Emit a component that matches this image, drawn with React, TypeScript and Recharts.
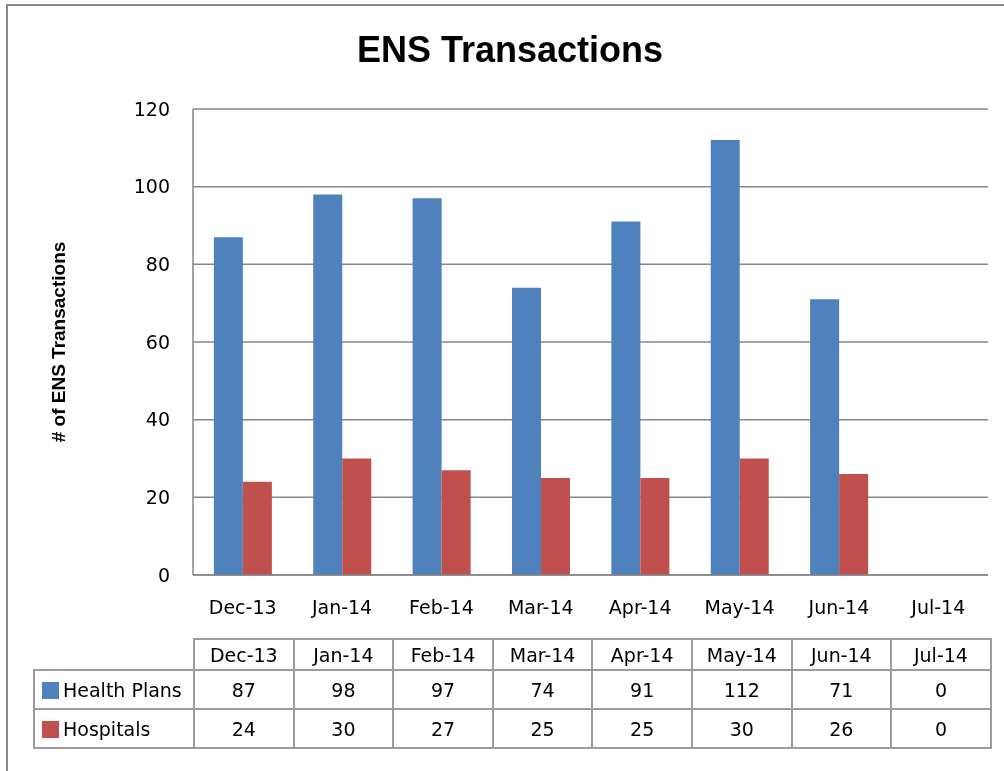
import React from "react";
import { BarChart, Bar, XAxis, YAxis, CartesianGrid } from "recharts";

const months = ["Dec-13", "Jan-14", "Feb-14", "Mar-14", "Apr-14", "May-14", "Jun-14", "Jul-14"];
const healthPlans = [87, 98, 97, 74, 91, 112, 71, 0];
const hospitals = [24, 30, 27, 25, 25, 30, 26, 0];
const yTicks = [0, 20, 40, 60, 80, 100, 120];

const series = [
  { key: "healthPlans", name: "Health Plans", color: "#4F81BD", values: healthPlans },
  { key: "hospitals", name: "Hospitals", color: "#C0504D", values: hospitals },
];

const data = months.map((m, i) => ({
  month: m,
  healthPlans: healthPlans[i],
  hospitals: hospitals[i],
}));

const gridColor = "#878787";
const frameColor = "#8a8a8a";
const tableBorder = "2px solid #9c9c9c";
const textFont = "'DejaVu Sans', sans-serif";

const YLabel = (props: any) => {
  const vb = props.viewBox;
  const cy = vb.y + vb.height / 2;
  return (
    <text
      x={58}
      y={cy}
      transform={`rotate(-90, 58, ${cy})`}
      textAnchor="middle"
      dominantBaseline="central"
      fontFamily="'Liberation Sans', Arial, sans-serif"
      fontWeight="bold"
      fontSize={19}
      fill="#000"
    >
      # of ENS Transactions
    </text>
  );
};

export default function App() {
  const cell: React.CSSProperties = {
    border: tableBorder,
    textAlign: "center",
    padding: 0,
  };

  return (
    <div style={{ position: "fixed", left: 0, top: 0, width: 1004, height: 771, background: "#fff" }}>
      <svg
        width={1004}
        height={771}
        style={{ position: "absolute", left: 0, top: 0, pointerEvents: "none" }}
      >
        <path d="M 7 771 L 7 5 L 1004 5" fill="none" stroke={frameColor} strokeWidth={2} />
      </svg>

      <div
        style={{
          position: "absolute",
          left: 8,
          width: 1004,
          top: 29,
          textAlign: "center",
          fontFamily: "'Liberation Sans', Arial, sans-serif",
          fontWeight: "bold",
          fontSize: 36,
          color: "#000",
        }}
      >
        ENS Transactions
      </div>

      <div style={{ position: "absolute", left: 0, top: 0 }}>
        <BarChart
          width={1004}
          height={640}
          data={data}
          margin={{ top: 109, right: 16, left: 0, bottom: 0 }}
          barCategoryGap="21%"
          barGap={0}
        >
          <CartesianGrid horizontal={true} vertical={false} stroke={gridColor} strokeWidth={1.5} />
          <XAxis
            dataKey="month"
            height={65}
            tickLine={false}
            tickSize={0}
            tickMargin={26}
            axisLine={{ stroke: gridColor, strokeWidth: 1.5 }}
            tick={{ fontFamily: textFont, fontSize: 19, fill: "#000" }}
            interval={0}
          />
          <YAxis
            width={193}
            domain={[0, 120]}
            ticks={yTicks}
            tickLine={false}
            tickSize={0}
            tickMargin={23}
            axisLine={{ stroke: gridColor, strokeWidth: 1.5 }}
            tick={{ fontFamily: textFont, fontSize: 19, fill: "#000" }}
            label={{ content: <YLabel /> } as any}
          />
          {series.map((s) => (
            <Bar key={s.key} dataKey={s.key} name={s.name} fill={s.color} isAnimationActive={false} />
          ))}
        </BarChart>
      </div>

      <table
        style={{
          position: "absolute",
          left: 33,
          top: 638,
          width: 957,
          borderCollapse: "collapse",
          tableLayout: "fixed",
          fontFamily: textFont,
          fontSize: 19,
          color: "#000",
        }}
      >
        <colgroup>
          <col style={{ width: 160 }} />
          {months.map((m) => (
            <col key={m} style={{ width: 99.6 }} />
          ))}
        </colgroup>
        <tbody>
          <tr style={{ height: 31 }}>
            <td style={{ border: "none", padding: 0 }} />
            {months.map((m) => (
              <td key={m} style={cell}>
                {m}
              </td>
            ))}
          </tr>
          {series.map((s) => (
            <tr key={s.key} style={{ height: 39 }}>
              <td style={{ ...cell, textAlign: "left", paddingLeft: 7, whiteSpace: "nowrap" }}>
                <span
                  style={{
                    display: "inline-block",
                    width: 17,
                    height: 17,
                    background: s.color,
                    marginRight: 4,
                    verticalAlign: "-2px",
                  }}
                />
                {s.name}
              </td>
              {s.values.map((v, i) => (
                <td key={i} style={cell}>
                  {v}
                </td>
              ))}
            </tr>
          ))}
        </tbody>
      </table>
    </div>
  );
}
